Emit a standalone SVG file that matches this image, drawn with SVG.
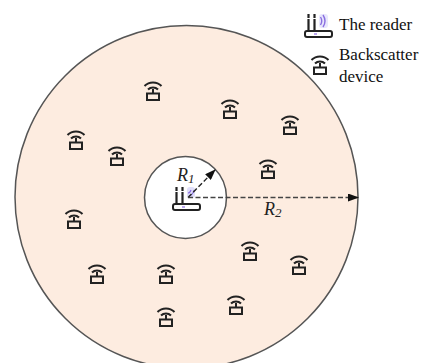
<svg xmlns="http://www.w3.org/2000/svg" width="422" height="363" viewBox="0 0 422 363">
<style>
.t{font-family:"Liberation Serif","Times New Roman",serif;font-size:17px;fill:#111}
.r{font-family:"Liberation Serif","Times New Roman",serif;font-size:18px;font-style:italic;fill:#222}
.ic{fill:none;stroke:#222;stroke-width:2}
.d{fill:none;stroke:#222;stroke-width:1.400;stroke-dasharray:5 2.500}
</style>
<defs>
<marker id="a" markerWidth="11" markerHeight="8" refX="10" refY="4" orient="auto" markerUnits="userSpaceOnUse"><path d="M0 0L11 4L0 8Z" fill="#111"/></marker>
<g id="dev" class="ic">
<path d="M-8.500 -4A12 12 0 0 1 8.500 -4"/>
<path d="M-5 -0.500A7 7 0 0 1 5 -0.500"/>
<path d="M0 -1V3"/>
<rect x="-6" y="3.500" width="12" height="6.500"/>
</g>
<g id="reader">
<path d="M-9.500 -15V2M-3.500 -15V2" fill="none" stroke="#222" stroke-width="2.200" stroke-dasharray="4 1 12"/>
<rect x="-13" y="2" width="27" height="6" rx="2" fill="#fff" stroke="#222" stroke-width="2"/>
<path d="M-4 5H-1" stroke="#a58ae8" stroke-width="1.500"/>
</g>
</defs>
<rect width="422" height="363" fill="#fff"/>
<g id="zones">
<circle id="outer" cx="186.500" cy="197" r="171.500" fill="#fdece0" stroke="#555" stroke-width="1.500"/>
<circle id="inner" cx="185.500" cy="197.500" r="41" fill="#fff" stroke="#555" stroke-width="1.500"/>
</g>
<g id="n-reader">
<use href="#reader" x="186" y="202"/>
<rect x="187" y="187" width="8" height="11" rx="3" fill="#d9d8f8" opacity=".85"/>
<path d="M188 193Q190 193 191 190M189 196Q193 195 194 190" fill="none" stroke="#8a6fe0" stroke-width="1.200"/>
</g>
<g id="connectors">
<path class="d" d="M188 197.500L215 170" marker-end="url(#a)"/>
<path class="d" d="M188 197.500H358" marker-end="url(#a)" style="stroke:#444"/>
</g>
<g id="labels">
<text class="r" x="177" y="181">R<tspan font-size="13" dy="2">1</tspan></text>
<text class="r" x="264" y="215">R<tspan font-size="13" dy="2">2</tspan></text>
</g>
<g id="d1"><use href="#dev" x="153" y="90"/></g>
<g id="d2"><use href="#dev" x="230" y="108"/></g>
<g id="d3"><use href="#dev" x="290" y="124"/></g>
<g id="d4"><use href="#dev" x="76" y="139"/></g>
<g id="d5"><use href="#dev" x="117" y="155"/></g>
<g id="d6"><use href="#dev" x="268" y="168"/></g>
<g id="d7"><use href="#dev" x="74" y="218"/></g>
<g id="d8"><use href="#dev" x="250" y="250"/></g>
<g id="d9"><use href="#dev" x="299" y="264"/></g>
<g id="d10"><use href="#dev" x="97" y="273"/></g>
<g id="d11"><use href="#dev" x="166" y="273"/></g>
<g id="d12"><use href="#dev" x="236" y="304"/></g>
<g id="d13"><use href="#dev" x="166" y="316"/></g>
<g id="legend">
<use href="#reader" x="318" y="29"/>
<rect x="319" y="14" width="9" height="14" rx="3" fill="#e4e3fb" opacity=".85"/>
<path d="M320.500 17Q323 21 320.500 25M323 15Q327 21 323 27" fill="none" stroke="#8a6fe0" stroke-width="1.400"/>
<text class="t" x="339" y="30">The reader</text>
<use href="#dev" x="320" y="64"/>
<text class="t" x="339" y="60">Backscatter</text>
<text class="t" x="339" y="82">device</text>
</g>
</svg>
